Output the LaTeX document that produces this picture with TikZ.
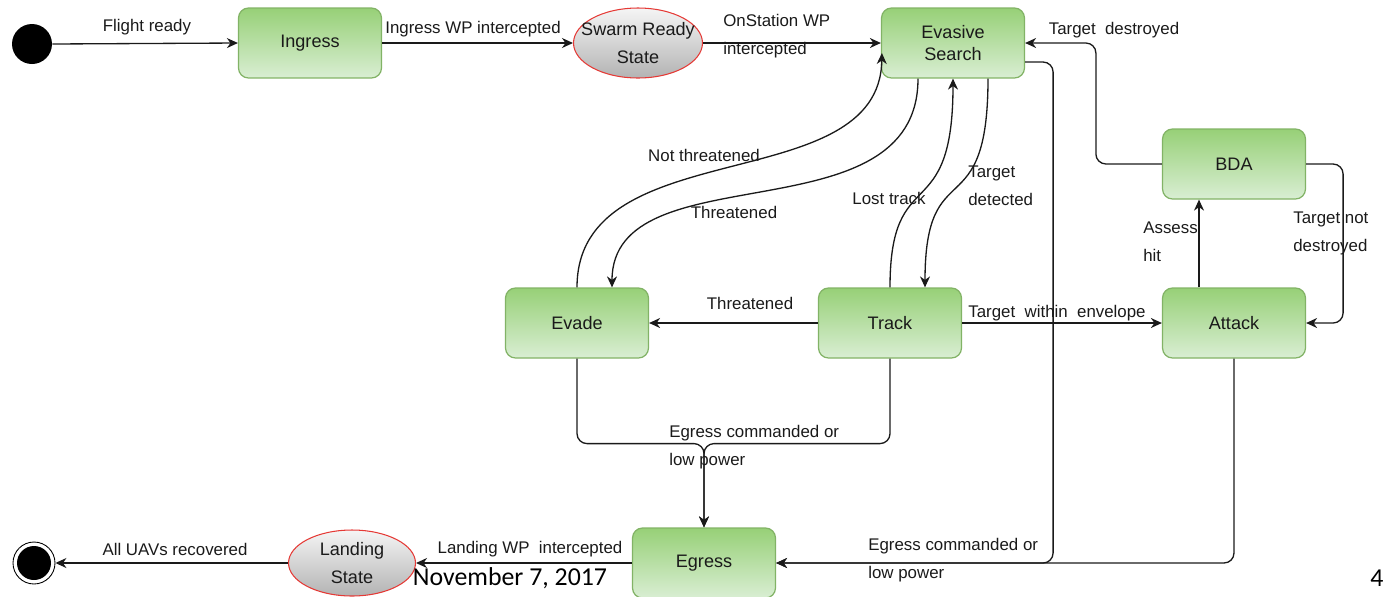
\documentclass[tikz,border=0pt]{standalone}
\usepackage{fontspec}
\setmainfont{Liberation Sans}
\newfontfamily\slidefont{Carlito}
\usetikzlibrary{arrows.meta,calc,shapes.geometric}
\definecolor{boxtop}{HTML}{97D077}
\definecolor{boxbot}{HTML}{D9EED3}
\definecolor{boxline}{HTML}{82B366}
\definecolor{elltop}{HTML}{F5F5F5}
\definecolor{ellbot}{HTML}{B3B3B3}
\definecolor{ellline}{HTML}{E53935}
\definecolor{ink}{HTML}{1A1A1A}
\begin{document}
\begin{tikzpicture}[x=0.02cm,y=-0.02cm,
  stbox/.style={rectangle, rounded corners=0.2cm, draw=boxline, line width=0.7pt,
    top color=boxtop, bottom color=boxbot, minimum width=2.86cm, minimum height=1.4cm,
    font=\fontsize{10.3}{13}\selectfont, text=ink, align=center},
  pseudo/.style={ellipse, draw=ellline, line width=0.6pt, top color=elltop,
    bottom color=ellbot, inner sep=0pt},
  ntext/.style={font=\fontsize{10.3}{15.9}\selectfont, text=ink, align=center, inner sep=0pt},
  link/.style={draw=ink, line width=0.75pt,
    -{Stealth[length=0.22cm,width=0.2cm,inset=0.07cm]}, rounded corners=0.2cm},
  lbl/.style={font=\fontsize{9.6}{15.9}\selectfont, text=ink, inner sep=0pt, align=left},
]
\clip (0,0) rectangle (1383,596);
\useasboundingbox (0,0) rectangle (1383,596);

% states
\node[circle, fill=black, minimum size=0.8cm, inner sep=0pt] (start) at (32,44) {};
\node[stbox] (ing) at (310,43) {Ingress};
\node[pseudo, minimum width=2.58cm, minimum height=1.4cm] (swarm) at (638,43) {};
\node[ntext] (swarmtxt) at (swarm) {Swarm Ready\\State};
\node[stbox] (ev) at (953,43) {Evasive\\Search};
\node[stbox] (bda) at (1234,164) {BDA};
\node[stbox] (at) at (1234,323) {Attack};
\node[stbox] (tr) at (890,323) {Track};
\node[stbox] (evd) at (577,323) {Evade};
\node[stbox] (eg) at (704,563) {Egress};
\node[pseudo, minimum width=2.54cm, minimum height=1.32cm] (land) at (352,563) {};
\node[ntext] (landtxt) at (land) {Landing\\State};
\node[circle, draw=black, line width=0.5pt, minimum size=0.84cm, inner sep=0pt,
  path picture={\fill[black] (path picture bounding box.center) circle (0.34cm);}]
  (fin) at (34,563) {};

% transitions
\draw[link] (start.east) -- (ing.west);
\draw[link] (ing) -- (swarm);
\draw[link] (swarm) -- (ev);
\draw[link] (bda.west) -- ++(-66,0) |- (ev.east);
\draw[link] (bda.east) -- ++(37,0) |- (at.east);
\draw[link] ($(at.north)+(-35,0)$) -- ($(bda.south)+(-35,0)$);
\draw[link] (tr) -- (at);
\draw[link] (tr) -- (evd);
\draw[link] (evd.south) -- ++(0,85) -| (eg.north);
\draw[link] (tr.south) -- ++(0,85) -| (eg.north);
\draw[link] ($(ev.east)+(0,19)$) -- ++(28,0) |- (eg.east);
\draw[link] (at.south) |- (eg.east);
\draw[link] (eg) -- (land);
\draw[link] (land) -- (fin);

% curved transitions between search, evade and track
\draw[link] (evd.north) .. controls (577,130) and (880,200) .. ($(ev.west)+(1,10)$);
\draw[link] ($(ev.south)+(-35,0)$) .. controls (918,240) and (612,150) .. ($(evd.north)+(35,0)$);
\draw[link] (tr.north) .. controls (890,160) and (953,230) .. (ev.south);
\draw[link] ($(ev.south)+(35,0)$) .. controls (988,230) and (925,150) .. ($(tr.north)+(35,0)$);

% transition labels
\node[lbl] (l1) at (147,27) {Flight ready};
\node[lbl] (l2) at (473,29) {Ingress WP intercepted};
\node[lbl, anchor=west] (l3) at (723,36) {OnStation WP\\intercepted};
\node[lbl] (l4) at (1114,30) {Target\ \ destroyed};
\node[lbl] (l5) at (704,155) {Not threatened};
\node[lbl] (l6) at (734,212) {Threatened};
\node[lbl] (l7) at (889,198) {Lost track};
\node[lbl, anchor=west] (l8) at (968,186) {Target\\detected};
\node[lbl, anchor=west] (l9) at (1143,242) {Assess\\hit};
\node[lbl, anchor=west] (l10) at (1293,233) {Target not\\destroyed};
\node[lbl] (l11) at (750,303) {Threatened};
\node[lbl] (l12) at (1057,313) {Target\ \ within\ \ envelope};
\node[lbl, anchor=west] (l13) at (669,447) {Egress commanded or\\low power};
\node[lbl, anchor=west] (l14) at (868,560) {Egress commanded or\\low power};
\node[lbl] (l15) at (530,549) {Landing WP\ \ intercepted};
\node[lbl] (l16) at (175,549) {All UAVs recovered};

% slide footer
\node[font=\slidefont\fontsize{14.7}{16}\selectfont, inner sep=0pt] (date) at (510,578) {November 7, 2017};
\node[font=\slidefont\fontsize{14.7}{16}\selectfont, inner sep=0pt] (page) at (1377,578) {4};
\end{tikzpicture}
\end{document}
